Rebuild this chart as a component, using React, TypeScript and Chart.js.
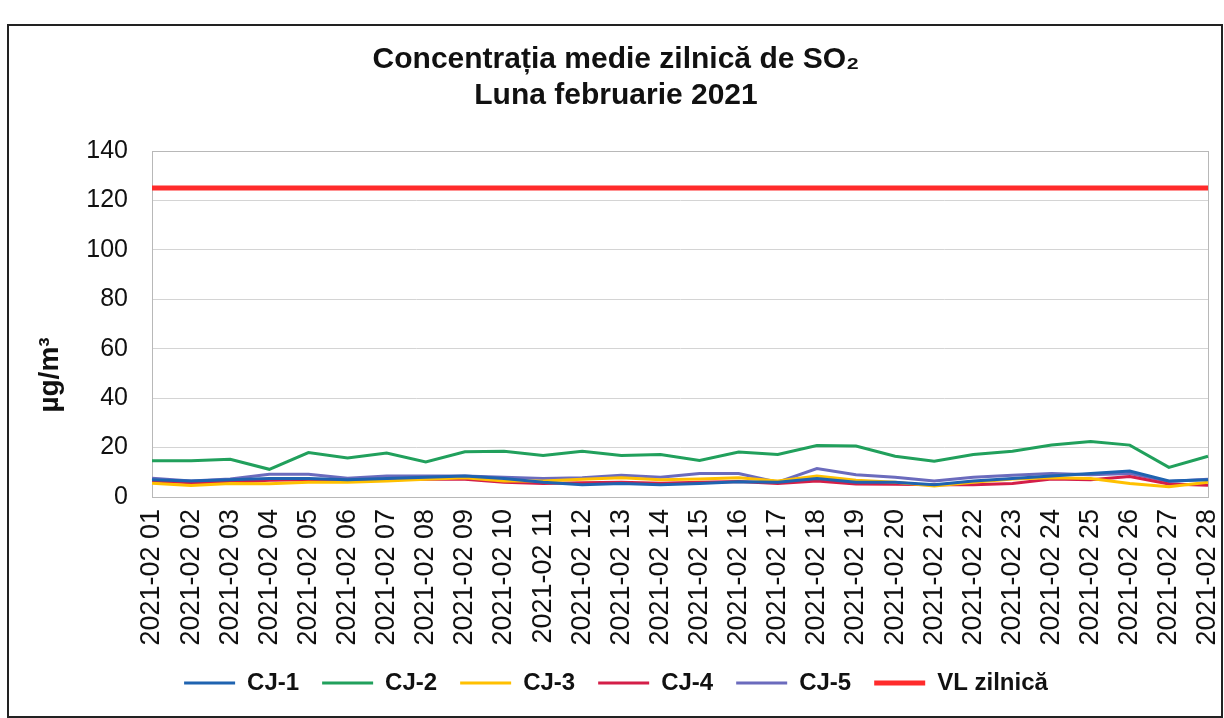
import React, { useEffect, useRef } from "react";
import { Chart, registerables } from "chart.js";

Chart.register(...registerables);

const FONT = "'Liberation Sans', Arial, Helvetica, sans-serif";

const titleLines = ["Concentrația medie zilnică de SO₂", "Luna februarie 2021"];
const yAxisTitle = "µg/m³";

const days = [
  "2021-02 01", "2021-02 02", "2021-02 03", "2021-02 04", "2021-02 05", "2021-02 06", "2021-02 07",
  "2021-02 08", "2021-02 09", "2021-02 10", "2021-02 11", "2021-02 12", "2021-02 13", "2021-02 14",
  "2021-02 15", "2021-02 16", "2021-02 17", "2021-02 18", "2021-02 19", "2021-02 20", "2021-02 21",
  "2021-02 22", "2021-02 23", "2021-02 24", "2021-02 25", "2021-02 26", "2021-02 27", "2021-02 28",
];

const cj1 = [7.0, 6.5, 7.0, 7.5, 7.5, 7.0, 7.5, 8.0, 8.5, 7.5, 6.0, 5.0, 5.5, 5.0, 5.5, 6.2, 6.0, 7.5, 6.0, 6.0, 5.0, 6.5, 7.5, 8.5, 9.5, 10.5, 6.5, 7.0];
const cj2 = [14.7, 14.7, 15.3, 11.2, 18.0, 15.8, 17.8, 14.2, 18.3, 18.5, 16.8, 18.5, 16.8, 17.2, 14.8, 18.2, 17.2, 20.8, 20.6, 16.5, 14.5, 17.2, 18.5, 21.0, 22.5, 21.0, 12.0, 16.5];
const cj3 = [5.6, 4.7, 5.5, 5.4, 6.0, 6.0, 6.5, 7.2, 7.8, 6.5, 6.5, 7.2, 7.8, 7.0, 7.3, 7.8, 6.5, 8.5, 6.8, 6.0, 4.5, 6.0, 7.3, 7.8, 7.5, 5.5, 4.2, 6.0];
const cj4 = [6.5, 5.8, 6.0, 6.8, 7.0, 6.5, 7.0, 7.2, 7.2, 6.0, 5.5, 5.8, 6.0, 5.6, 6.0, 6.3, 5.5, 6.5, 5.3, 5.2, 5.0, 5.0, 5.5, 7.3, 7.0, 8.3, 5.3, 4.8];
const cj5 = [7.6, 6.5, 7.3, 9.2, 9.2, 7.6, 8.5, 8.5, 8.5, 8.0, 7.5, 7.8, 8.8, 8.0, 9.5, 9.5, 6.0, 11.5, 9.0, 8.0, 6.5, 8.0, 8.8, 9.5, 9.0, 9.5, 6.3, 7.2];
const vlZilnica = [125, 125, 125, 125, 125, 125, 125, 125, 125, 125, 125, 125, 125, 125, 125, 125, 125, 125, 125, 125, 125, 125, 125, 125, 125, 125, 125, 125];

const seriesNames = ["CJ-1", "CJ-2", "CJ-3", "CJ-4", "CJ-5", "VL zilnică"];
const seriesValues = [cj1, cj2, cj3, cj4, cj5, vlZilnica];
const seriesColors = ["#1f63b0", "#21a05c", "#ffc000", "#d41e48", "#6b6bbd", "#ff2b2b"];
const seriesWidths = [3, 3, 3, 3, 3, 5];

const yMin = 0;
const yMax = 140;
const yStep = 20;

export default function App() {
  const ref = useRef<HTMLCanvasElement>(null);

  useEffect(() => {
    document.body.style.margin = "0";
    const canvas = ref.current;
    if (!canvas) return;

    const yTitlePlugin = {
      id: "yTitlePlugin",
      afterDraw(chart: any) {
        const ctx = chart.ctx;
        const area = chart.chartArea;
        ctx.save();
        ctx.translate(50, area.bottom - 122);
        ctx.rotate(-Math.PI / 2);
        ctx.font = `bold 28px ${FONT}`;
        ctx.fillStyle = "#111";
        ctx.textAlign = "center";
        ctx.textBaseline = "middle";
        ctx.fillText(yAxisTitle, 0, 0);
        ctx.restore();
      },
    };

    const areaFrame = {
      id: "areaFrame",
      beforeDatasetsDraw(chart: any) {
        const { left, top, right, bottom } = chart.chartArea;
        const ctx = chart.ctx;
        ctx.save();
        ctx.strokeStyle = "#b8b8b8";
        ctx.lineWidth = 1;
        ctx.strokeRect(Math.round(left) + 0.5, Math.round(top) + 0.5, Math.round(right - left), Math.round(bottom - top));
        ctx.restore();
      },
    };

    const chart = new Chart(canvas, {
      type: "line",
      data: {
        labels: days,
        datasets: seriesNames.map((name, i) => ({
          label: name,
          data: seriesValues[i],
          borderColor: seriesColors[i],
          backgroundColor: seriesColors[i],
          borderWidth: seriesWidths[i],
          pointRadius: 0,
          pointHoverRadius: 0,
          pointStyle: "line",
          tension: 0,
          fill: false,
        })),
      },
      options: {
        responsive: false,
        animation: false,
        events: [],
        layout: { padding: { top: 0, left: 24, right: 16, bottom: 13 } },
        plugins: {
          title: {
            display: true,
            text: titleLines,
            color: "#111",
            font: { family: FONT, size: 30, weight: "bold", lineHeight: 1.2 },
            padding: { top: 42, bottom: 37 },
          },
          legend: {
            position: "bottom",
            labels: {
              color: "#111",
              font: { family: FONT, size: 24, weight: "bold" },
              usePointStyle: true,
              pointStyleWidth: 51,
              padding: 23,
            },
          },
          tooltip: { enabled: false },
        },
        scales: {
          x: {
            grid: { display: false, drawTicks: false },
            border: { display: true, color: "#b8b8b8" },
            ticks: {
              autoSkip: false,
              minRotation: 90,
              maxRotation: 90,
              padding: 12,
              color: "#111",
              font: { family: FONT, size: 27 },
            },
            afterFit(scale: any) {
              scale.height = 151;
              scale.paddingLeft = 0;
              scale.paddingRight = 0;
            },
          },
          y: {
            min: yMin,
            max: yMax,
            grid: { color: "#d4d4d4", lineWidth: 1, drawTicks: false },
            border: { display: true, color: "#b8b8b8" },
            ticks: {
              stepSize: yStep,
              padding: 24,
              color: "#111",
              font: { family: FONT, size: 25 },
            },
            afterFit(scale: any) {
              scale.width = 128;
            },
          },
        },
      },
      plugins: [yTitlePlugin, areaFrame],
    });

    return () => chart.destroy();
  }, []);

  return (
    <div style={{ position: "relative", width: 1224, height: 718, background: "#fff" }}>
      <canvas ref={ref} width={1224} height={718} style={{ display: "block" }} />
      <div
        style={{
          position: "absolute",
          left: 7,
          top: 24,
          width: 1212,
          height: 690,
          border: "2px solid #222",
          pointerEvents: "none",
        }}
      />
    </div>
  );
}
